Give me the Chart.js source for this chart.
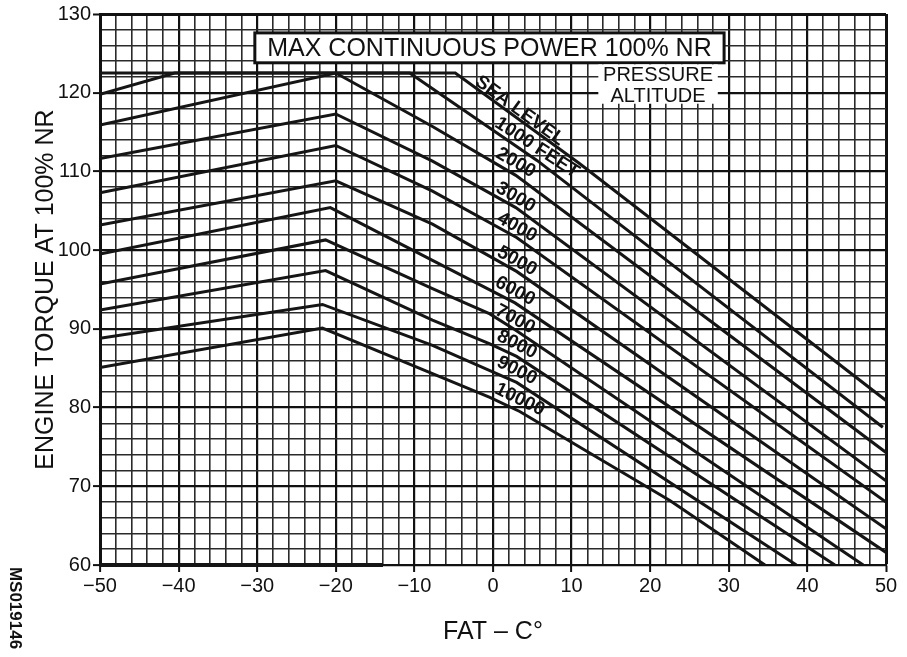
<!DOCTYPE html>
<html>
<head>
<meta charset="utf-8">
<script src="https://cdn.jsdelivr.net/npm/chart.js@4.4.1/dist/chart.umd.min.js"></script>
<style>
  body { margin: 0; background: #fff; }
  #wrap { width: 907px; height: 657px; }
</style>
</head>
<body>
<div id="wrap"><canvas id="torqueChart" width="907" height="657"></canvas></div>
<script>
// engine torque (% at 100% NR) against FAT, one line per pressure altitude
const seaLevel = [[-50,122.5],[-4.8,122.5],[11,111],[50,80.9]];
const alt1000 = [[-50,119.8],[-40.5,122.5],[-10.6,122.5],[5.6,111.4],[49.6,77.5]];
const alt2000 = [[-50,115.9],[-20,122.5],[-7.7,115.7],[2.9,109.5],[50,74.3]];
const alt3000 = [[-50,111.65],[-20,117.3],[-7.7,111.3],[2.9,105.4],[50,70.7]];
const alt4000 = [[-50,107.3],[-20,113.3],[-7.7,107.5],[3,101.6],[50,68.0]];
const alt5000 = [[-50,103.2],[-20,108.8],[-7.7,103.3],[3,97.3],[50,64.6]];
const alt6000 = [[-50,99.5],[-20.7,105.4],[-7.7,98.7],[2.8,93.3],[50,61.6]];
const alt7000 = [[-50,95.7],[-21.3,101.3],[-7.7,95.1],[-0.4,91.9],[2.8,89.9],[47.1,60]];
const alt8000 = [[-50,92.4],[-21.3,97.4],[-7.7,91.1],[-0.4,88.1],[3,86.5],[43.5,60]];
const alt9000 = [[-50,88.8],[-21.7,93.1],[-7.7,87.9],[-0.4,84.7],[3,83.2],[38.6,60]];
const alt10000 = [[-50,85.1],[-21.7,90.1],[-7.7,84.3],[-0.4,81.3],[3.4,79.5],[22.5,68.2],[34.6,60]];

// heavy scan line along the bottom axis
const axisBar = [[-50,60],[-14,60]];

const altLabels = ['SEA LEVEL','1000 FEET','2000','3000','4000','5000','6000','7000','8000','9000','10000'];
const labelX = [3.4,5.6,2.9,2.9,3.05,3.05,2.8,2.8,3.05,3.05,3.4];
const labelY = [117.7,113.0,111.1,106.7,102.9,98.6,94.8,91.2,88.0,84.7,81.0];
const labelAngle = [36,33,30,30,29,29,28,28,27,27,26];

const fatTicks = [-50,-40,-30,-20,-10,0,10,20,30,40,50];
const torqueTicks = [60,70,80,90,100,110,120,130];

const curves = [seaLevel,alt1000,alt2000,alt3000,alt4000,alt5000,alt6000,alt7000,alt8000,alt9000,alt10000];

const datasets = curves.map((pts, i) => ({
  label: altLabels[i],
  data: pts.map(p => ({x: p[0], y: p[1]})),
  borderColor: '#151515',
  borderWidth: 3,
  pointRadius: 0,
  showLine: true,
  tension: 0,
  fill: false
}));
datasets.push({
  label: 'axis',
  data: axisBar.map(p => ({x: p[0], y: p[1]})),
  borderColor: '#151515',
  borderWidth: 4,
  pointRadius: 0,
  showLine: true,
  clip: 6
});

const FONT = '"Liberation Sans", Arial, Helvetica, sans-serif';

function minus(v) {
  return String(v).replace('-', '\u2212');
}

const decor = {
  id: 'decor',
  afterDatasetsDraw(chart) {
    const {ctx, scales: {x, y}} = chart;
    ctx.save();

    // title box
    const bx1 = x.getPixelForValue(-30.3), bx2 = x.getPixelForValue(29.4);
    const by1 = y.getPixelForValue(127.6), by2 = y.getPixelForValue(123.8);
    ctx.fillStyle = '#fff';
    ctx.fillRect(bx1, by1, bx2 - bx1, by2 - by1);
    ctx.lineWidth = 3;
    ctx.strokeStyle = '#111';
    ctx.strokeRect(bx1, by1, bx2 - bx1, by2 - by1);
    ctx.fillStyle = '#111';
    ctx.textAlign = 'center';
    ctx.textBaseline = 'middle';
    ctx.font = '25px ' + FONT;
    ctx.fillText('MAX CONTINUOUS POWER 100% NR', (bx1 + bx2) / 2, (by1 + by2) / 2 + 1);

    // pressure altitude note
    const px1 = x.getPixelForValue(13.4), px2 = x.getPixelForValue(28.6);
    const py1 = y.getPixelForValue(123.6), py2 = y.getPixelForValue(118.6);
    ctx.fillStyle = '#fff';
    ctx.fillRect(px1, py1, px2 - px1, py2 - py1);
    ctx.fillStyle = '#111';
    ctx.font = '20px ' + FONT;
    ctx.fillText('PRESSURE', (px1 + px2) / 2, py1 + 11);
    ctx.fillText('ALTITUDE', (px1 + px2) / 2, py1 + 32);

    // altitude labels riding on their lines
    ctx.font = 'bold 19px ' + FONT;
    altLabels.forEach((t, i) => {
      ctx.save();
      ctx.translate(x.getPixelForValue(labelX[i]), y.getPixelForValue(labelY[i]));
      ctx.rotate(labelAngle[i] * Math.PI / 180);
      ctx.fillText(t, 0, 0);
      ctx.restore();
    });
    ctx.restore();
  },
  afterDraw(chart) {
    const ctx = chart.ctx;
    ctx.save();
    ctx.translate(15, 608);
    ctx.rotate(Math.PI / 2);
    ctx.fillStyle = '#111';
    ctx.font = 'bold 17px ' + FONT;
    ctx.textAlign = 'center';
    ctx.textBaseline = 'middle';
    ctx.fillText('MS019146', 0, 0);
    ctx.restore();
  }
};

function gridWidth(ctx) {
  const v = ctx.tick ? ctx.tick.value : 0;
  if (v === 50 || v === 130) return 3;
  return v % 10 === 0 ? 2.2 : 1.6;
}
function gridColor(ctx) {
  const v = ctx.tick ? ctx.tick.value : 0;
  return v % 10 === 0 ? '#111' : '#2a2a2a';
}

new Chart(document.getElementById('torqueChart'), {
  type: 'scatter',
  data: { datasets: datasets },
  options: {
    responsive: false,
    animation: false,
    layout: { padding: { top: 14, right: 21, left: 0, bottom: 0 } },
    plugins: {
      legend: { display: false },
      tooltip: { enabled: false }
    },
    scales: {
      x: {
        type: 'linear',
        min: -50,
        max: 50,
        afterFit(scale) { scale.height = 92; },
        ticks: {
          stepSize: 2,
          autoSkip: false,
          maxRotation: 0,
          padding: 2,
          color: '#111',
          font: { family: FONT, size: 20 },
          callback: v => fatTicks.includes(v) ? minus(v) : ''
        },
        grid: {
          color: gridColor,
          lineWidth: gridWidth,
          tickLength: 7,
          tickColor: c => (c.tick && c.tick.value % 10 === 0) ? '#111' : 'rgba(0,0,0,0)',
          tickWidth: 2
        },
        border: { display: true, color: '#111', width: 2 },
        title: {
          display: true,
          text: 'FAT \u2013 C\u00B0',
          color: '#111',
          font: { family: FONT, size: 25 },
          padding: { top: 0, bottom: 10 }
        }
      },
      y: {
        type: 'linear',
        min: 60,
        max: 130,
        afterFit(scale) { scale.width = 100; },
        ticks: {
          stepSize: 2,
          autoSkip: false,
          padding: 2,
          color: '#111',
          font: { family: FONT, size: 20 },
          callback: v => torqueTicks.includes(v) ? v : ''
        },
        grid: {
          color: gridColor,
          lineWidth: gridWidth,
          tickLength: 7,
          tickColor: c => (c.tick && c.tick.value % 10 === 0) ? '#111' : 'rgba(0,0,0,0)',
          tickWidth: 2
        },
        border: { display: true, color: '#111', width: 3 },
        title: {
          display: true,
          text: 'ENGINE TORQUE AT 100% NR',
          color: '#111',
          font: { family: FONT, size: 25 },
          padding: { top: 31, bottom: 0 }
        }
      }
    }
  },
  plugins: [decor]
});
</script>
</body>
</html>
